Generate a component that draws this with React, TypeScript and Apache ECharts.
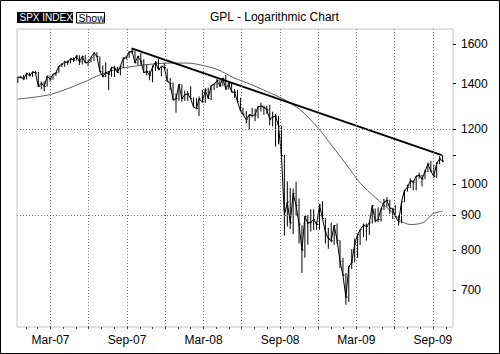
import React, { useEffect, useRef } from 'react';
import * as echarts from 'echarts';

// Weekly S&P 500 bars: [week ending, high, low, close]
const bars2007: [string, number, number, number][] = [
  ['2007-01-12', 1431, 1403, 1430], ['2007-01-19', 1437, 1425, 1430], ['2007-01-26', 1441, 1416, 1423],
  ['2007-02-02', 1452, 1420, 1449], ['2007-02-09', 1453, 1438, 1438], ['2007-02-16', 1457, 1432, 1456],
  ['2007-02-23', 1461, 1451, 1451], ['2007-03-02', 1456, 1384, 1387], ['2007-03-09', 1410, 1374, 1402],
  ['2007-03-16', 1410, 1364, 1386], ['2007-03-23', 1437, 1386, 1436], ['2007-03-30', 1438, 1409, 1421],
  ['2007-04-06', 1445, 1419, 1444], ['2007-04-13', 1453, 1436, 1452], ['2007-04-20', 1485, 1452, 1484],
  ['2007-04-27', 1498, 1480, 1494], ['2007-05-04', 1510, 1481, 1505], ['2007-05-11', 1513, 1491, 1505],
  ['2007-05-18', 1522, 1498, 1522], ['2007-05-25', 1529, 1505, 1515], ['2007-06-01', 1540, 1513, 1536],
  ['2007-06-08', 1540, 1490, 1507], ['2007-06-15', 1538, 1493, 1532], ['2007-06-22', 1541, 1500, 1502],
  ['2007-06-29', 1517, 1484, 1503], ['2007-07-06', 1532, 1503, 1530], ['2007-07-13', 1555, 1510, 1552],
  ['2007-07-20', 1556, 1530, 1534], ['2007-07-27', 1534, 1458, 1458], ['2007-08-03', 1488, 1433, 1433],
  ['2007-08-10', 1504, 1430, 1453], ['2007-08-17', 1460, 1370, 1445], ['2007-08-24', 1480, 1433, 1479],
  ['2007-08-31', 1486, 1432, 1474], ['2007-09-07', 1482, 1451, 1454], ['2007-09-14', 1488, 1439, 1484],
  ['2007-09-21', 1530, 1476, 1525], ['2007-09-28', 1538, 1518, 1527], ['2007-10-05', 1561, 1527, 1557],
  ['2007-10-12', 1576, 1547, 1561], ['2007-10-19', 1564, 1500, 1501], ['2007-10-26', 1535, 1489, 1535],
  ['2007-11-02', 1552, 1492, 1509], ['2007-11-09', 1520, 1451, 1453], ['2007-11-16', 1492, 1439, 1458],
  ['2007-11-23', 1462, 1416, 1440], ['2007-11-30', 1488, 1406, 1481], ['2007-12-07', 1510, 1460, 1504],
  ['2007-12-14', 1523, 1467, 1467], ['2007-12-21', 1485, 1435, 1484], ['2007-12-28', 1499, 1468, 1478],
];

const bars2008: [string, number, number, number][] = [
  ['2008-01-04', 1472, 1411, 1411], ['2008-01-11', 1427, 1370, 1401], ['2008-01-18', 1405, 1325, 1325],
  ['2008-01-25', 1355, 1270, 1331], ['2008-02-01', 1396, 1322, 1396], ['2008-02-08', 1396, 1317, 1331],
  ['2008-02-15', 1368, 1321, 1349], ['2008-02-22', 1366, 1321, 1353], ['2008-02-29', 1388, 1331, 1331],
  ['2008-03-07', 1336, 1293, 1294], ['2008-03-14', 1333, 1284, 1288], ['2008-03-20', 1341, 1256, 1330],
  ['2008-03-28', 1370, 1315, 1316], ['2008-04-04', 1380, 1312, 1370], ['2008-04-11', 1381, 1331, 1332],
  ['2008-04-18', 1395, 1324, 1390], ['2008-04-25', 1397, 1370, 1398], ['2008-05-02', 1422, 1379, 1414],
  ['2008-05-09', 1416, 1384, 1389], ['2008-05-16', 1426, 1388, 1426], ['2008-05-23', 1441, 1370, 1375],
  ['2008-05-30', 1406, 1373, 1400], ['2008-06-06', 1404, 1360, 1361], ['2008-06-13', 1375, 1335, 1360],
  ['2008-06-20', 1370, 1317, 1318], ['2008-06-27', 1335, 1278, 1278], ['2008-07-03', 1291, 1260, 1263],
  ['2008-07-11', 1276, 1225, 1240], ['2008-07-18', 1263, 1200, 1261], ['2008-07-25', 1291, 1250, 1257],
  ['2008-08-01', 1287, 1234, 1260], ['2008-08-08', 1297, 1246, 1296], ['2008-08-15', 1313, 1275, 1298],
  ['2008-08-22', 1300, 1261, 1292], ['2008-08-29', 1300, 1265, 1283], ['2008-09-05', 1303, 1217, 1242],
  ['2008-09-12', 1274, 1212, 1252], ['2008-09-19', 1265, 1133, 1255], ['2008-09-26', 1256, 1142, 1213],
  ['2008-10-03', 1214, 1099, 1099], ['2008-10-10', 1102, 840, 899], ['2008-10-17', 1008, 866, 940],
  ['2008-10-24', 986, 859, 877], ['2008-10-31', 984, 845, 968], ['2008-11-07', 1007, 899, 930],
  ['2008-11-14', 952, 818, 873], ['2008-11-21', 870, 741, 800], ['2008-11-28', 897, 780, 896],
  ['2008-12-05', 900, 815, 876], ['2008-12-12', 918, 852, 879], ['2008-12-19', 918, 857, 887],
  ['2008-12-26', 880, 857, 872],
];

const bars2009: [string, number, number, number][] = [
  ['2009-01-02', 934, 857, 931], ['2009-01-09', 943, 888, 890], ['2009-01-16', 891, 818, 850],
  ['2009-01-23', 862, 804, 832], ['2009-01-30', 877, 821, 826], ['2009-02-06', 870, 814, 869],
  ['2009-02-13', 875, 818, 827], ['2009-02-20', 827, 754, 770], ['2009-02-27', 780, 735, 735],
  ['2009-03-06', 741, 666, 683], ['2009-03-13', 758, 672, 757], ['2009-03-20', 803, 751, 768],
  ['2009-03-27', 832, 768, 816], ['2009-04-03', 845, 779, 843], ['2009-04-09', 857, 814, 857],
  ['2009-04-17', 875, 836, 870], ['2009-04-24', 875, 826, 866], ['2009-05-01', 878, 842, 877],
  ['2009-05-08', 930, 875, 929], ['2009-05-15', 920, 878, 883], ['2009-05-22', 924, 879, 887],
  ['2009-05-29', 920, 881, 919], ['2009-06-05', 951, 916, 940], ['2009-06-12', 956, 926, 946],
  ['2009-06-19', 948, 904, 921], ['2009-06-26', 922, 888, 918], ['2009-07-02', 931, 896, 896],
  ['2009-07-10', 898, 869, 880], ['2009-07-17', 941, 876, 941], ['2009-07-24', 979, 940, 979],
  ['2009-07-31', 997, 974, 987], ['2009-08-07', 1018, 986, 1010], ['2009-08-14', 1012, 978, 1005],
  ['2009-08-21', 1027, 978, 1026], ['2009-08-28', 1039, 1017, 1029], ['2009-09-04', 1030, 991, 1016],
  ['2009-09-11', 1048, 1016, 1042], ['2009-09-18', 1074, 1040, 1068], ['2009-09-25', 1080, 1041, 1044],
  ['2009-10-02', 1066, 1019, 1025], ['2009-10-09', 1075, 1020, 1071], ['2009-10-16', 1097, 1068, 1087],
  ['2009-10-23', 1101, 1075, 1079],
];

// Moving average
const maDates = [
  '2007-01-11', '2007-03-31', '2007-06-18', '2007-07-28', '2007-09-07', '2007-10-16', '2007-11-24',
  '2008-01-11', '2008-02-21', '2008-03-23', '2008-05-03', '2008-06-10', '2008-07-21', '2008-08-31',
  '2008-10-08', '2008-11-17', '2008-12-28', '2009-02-04', '2009-03-17', '2009-04-10', '2009-05-15',
  '2009-06-20', '2009-07-14', '2009-08-07', '2009-09-07', '2009-09-30', '2009-10-23',
];
const maValues = [
  1329, 1350, 1406, 1443, 1470, 1484, 1494,
  1500, 1500, 1491, 1468, 1429, 1397, 1362,
  1329, 1282, 1209, 1130, 1047, 1001, 955,
  914, 884, 872, 878, 904, 912,
];

// Trend line (Oct-2007 high to Oct-2009 high)
const trendDates = ['2007-10-11', '2009-10-21'];
const trendValues = [1576, 1101];

const yTickValues = [700, 800, 900, 1000, 1100, 1200, 1400, 1600];
const yLabelValues = [700, 800, 900, 1000, 1200, 1400, 1600];
const hGridValues = [1200, 900];
const yMin = 618;
const yMax = 1682;

const xMin = '2007-01-10';
const xMax = '2009-11-17';
const labelDates = ['2007-03-31', '2007-09-30', '2008-03-31', '2008-09-30', '2009-03-31', '2009-09-30'];
const quarterEnds = [
  '2007-03-31', '2007-06-30', '2007-09-30', '2007-12-31', '2008-03-31', '2008-06-30',
  '2008-09-30', '2008-12-31', '2009-03-31', '2009-06-30', '2009-09-30',
];
const monthEnds = [
  '2007-01-31', '2007-02-28', '2007-03-31', '2007-04-30', '2007-05-31', '2007-06-30',
  '2007-07-31', '2007-08-31', '2007-09-30', '2007-10-31', '2007-11-30', '2007-12-31',
  '2008-01-31', '2008-02-29', '2008-03-31', '2008-04-30', '2008-05-31', '2008-06-30',
  '2008-07-31', '2008-08-31', '2008-09-30', '2008-10-31', '2008-11-30', '2008-12-31',
  '2009-01-31', '2009-02-28', '2009-03-31', '2009-04-30', '2009-05-31', '2009-06-30',
  '2009-07-31', '2009-08-31', '2009-09-30', '2009-10-31',
];
const monthNames = ['Jan', 'Feb', 'Mar', 'Apr', 'May', 'Jun', 'Jul', 'Aug', 'Sep', 'Oct', 'Nov', 'Dec'];

const titleText = 'GPL - Logarithmic Chart';
const tickerText = 'SPX INDEX';
const buttonText = 'Show';

const FONT = "'Liberation Sans', Arial, sans-serif";
const ts = (d: string) => Date.parse(d + 'T00:00:00Z');

export default function App() {
  const ref = useRef<HTMLDivElement>(null);

  useEffect(() => {
    if (!ref.current) return;
    const chart = echarts.init(ref.current, null, { renderer: 'svg' });
    const bars = [...bars2007, ...bars2008, ...bars2009];
    const barData = bars.map((b) => [ts(b[0]), b[1], b[2], b[3]]);
    const closeData = bars.map((b) => [ts(b[0]), b[3]]);
    const maData = maDates.map((d, i) => [ts(d), maValues[i]]);
    const trendData = trendDates.map((d, i) => [ts(d), trendValues[i]]);

    const gridLineStyle = { color: '#777', width: 1, type: [1, 2] as any };

    chart.setOption({
      animation: false,
      backgroundColor: '#fff',
      textStyle: { fontFamily: FONT },
      grid: {
        left: 17, top: 29, width: 436, height: 298,
        show: true, borderColor: '#c4c4c4', borderWidth: 1, backgroundColor: 'transparent',
      },
      xAxis: {
        type: 'value',
        min: ts(xMin),
        max: ts(xMax),
        axisLine: { show: false },
        splitLine: { show: false },
        axisTick: {
          show: true,
          customValues: monthEnds.map(ts),
          length: 2,
          lineStyle: { color: '#444' },
        },
        axisLabel: {
          customValues: labelDates.map(ts),
          margin: 7,
          fontSize: 12,
          fontFamily: FONT,
          color: '#000',
          formatter: (v: number) => {
            const d = new Date(v);
            return monthNames[d.getUTCMonth()] + '-' + String(d.getUTCFullYear()).slice(2);
          },
        },
      },
      yAxis: {
        type: 'log',
        logBase: 10,
        position: 'right',
        min: yMin,
        max: yMax,
        axisLine: { show: false },
        splitLine: { show: false },
        axisTick: {
          show: true,
          customValues: yTickValues,
          length: 3,
          lineStyle: { color: '#000' },
        },
        axisLabel: {
          customValues: yLabelValues,
          margin: 8,
          fontSize: 12,
          fontFamily: FONT,
          color: '#000',
          formatter: (v: number) => String(Math.round(v)),
        },
      },
      series: [
        {
          type: 'line',
          name: 'MA',
          data: maData,
          showSymbol: false,
          smooth: 0.3,
          lineStyle: { color: '#5a5a5a', width: 1 },
          silent: true,
          z: 2,
          markLine: {
            silent: true,
            symbol: ['none', 'none'],
            label: { show: false },
            lineStyle: gridLineStyle,
            data: [
              ...quarterEnds.map((d) => ({ xAxis: ts(d) })),
              ...hGridValues.map((v) => ({ yAxis: v })),
            ],
          },
        },
        {
          type: 'line',
          name: 'Close',
          data: closeData,
          showSymbol: false,
          lineStyle: { color: '#000', width: 1 },
          silent: true,
          z: 3,
        },
        {
          type: 'custom',
          name: 'HL',
          data: barData,
          encode: { x: 0, y: [1, 2] },
          silent: true,
          z: 3,
          renderItem: (params: any, api: any) => {
            const t = api.value(0);
            const h = api.coord([t, api.value(1)]);
            const l = api.coord([t, api.value(2)]);
            const c = api.coord([t, api.value(3)]);
            return {
              type: 'group',
              children: [
                { type: 'line', shape: { x1: h[0], y1: h[1], x2: l[0], y2: l[1] }, style: { stroke: '#000', lineWidth: 1 } },
                { type: 'line', shape: { x1: c[0], y1: c[1], x2: c[0] + 1.5, y2: c[1] }, style: { stroke: '#000', lineWidth: 1 } },
              ],
            };
          },
        },
        {
          type: 'line',
          name: 'Trend',
          data: trendData,
          showSymbol: false,
          lineStyle: { color: '#000', width: 2 },
          silent: true,
          z: 4,
        },
      ],
      graphic: [
        { type: 'rect', shape: { x: 0.5, y: 0.5, width: 499, height: 353 }, style: { fill: 'none', stroke: '#000', lineWidth: 1 }, silent: true },
        { type: 'rect', shape: { x: 17, y: 12, width: 56, height: 11 }, style: { fill: '#000' }, silent: true },
        { type: 'text', x: 19.5, y: 17.5, style: { text: tickerText, fill: '#fff', fontSize: 10, fontFamily: FONT, verticalAlign: 'middle' }, silent: true },
        { type: 'rect', shape: { x: 76.5, y: 12.5, width: 28, height: 10.5 }, style: { fill: '#fff', stroke: '#000', lineWidth: 1 }, silent: true },
        { type: 'text', x: 78.5, y: 18, style: { text: buttonText, fill: '#000', fontSize: 10.5, fontFamily: FONT, verticalAlign: 'middle' }, silent: true },
        { type: 'text', x: 210, y: 17, style: { text: titleText, fill: '#000', fontSize: 12, fontFamily: FONT, verticalAlign: 'middle' }, silent: true },
      ],
    });

    return () => chart.dispose();
  }, []);

  return (
    <div
      ref={ref}
      style={{ position: 'absolute', left: 0, top: 0, width: 500, height: 354, background: '#fff' }}
    />
  );
}
